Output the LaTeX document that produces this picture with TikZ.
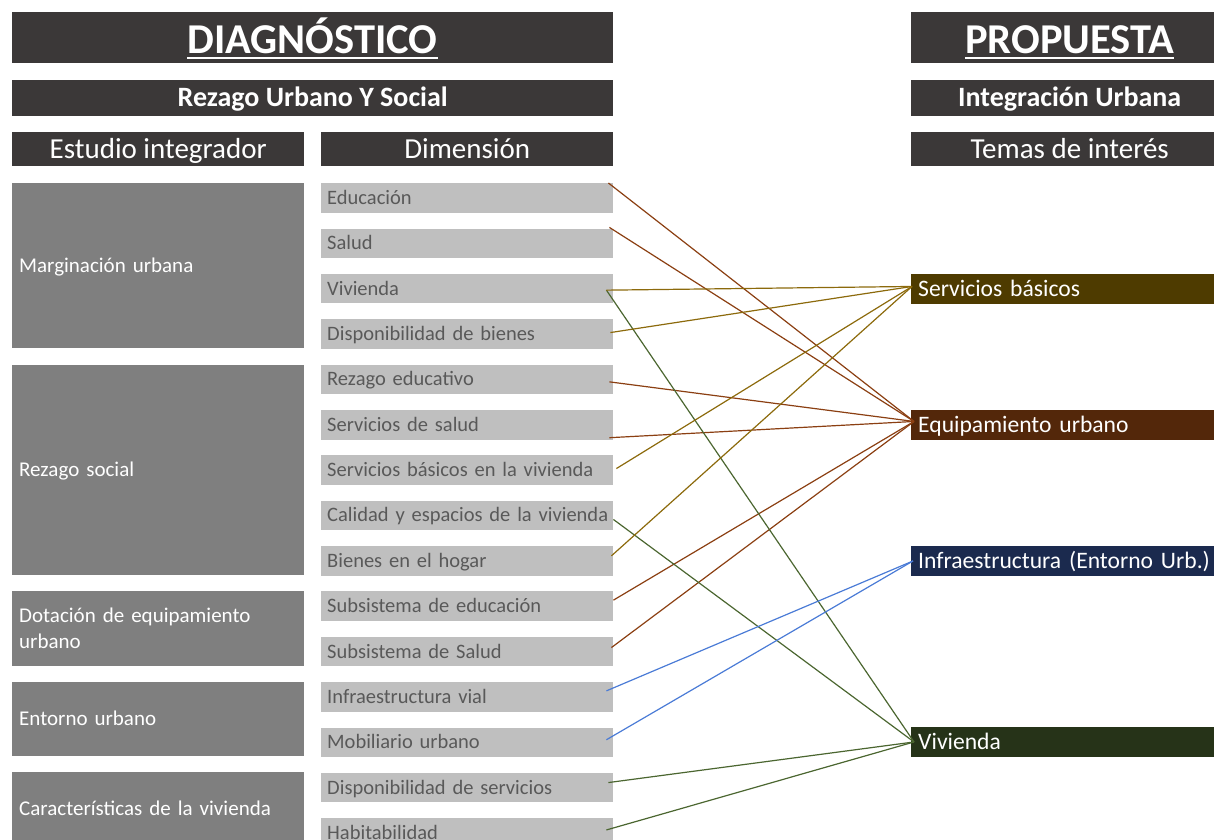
\documentclass[tikz,border=0pt]{standalone}
\usepackage{fontspec}
\setmainfont{Carlito}
\usetikzlibrary{calc}
\definecolor{hdr}{HTML}{3B3838}
\definecolor{lbox}{HTML}{7F7F7F}
\definecolor{dbox}{HTML}{BFBFBF}
\definecolor{dtxt}{HTML}{595959}
\definecolor{sbfill}{HTML}{4E3B00}
\definecolor{eqfill}{HTML}{53270A}
\definecolor{inffill}{HTML}{1B2A4E}
\definecolor{vvfill}{HTML}{263318}
\definecolor{sbline}{HTML}{8C6A0C}
\definecolor{eqline}{HTML}{8B3F12}
\definecolor{infline}{HTML}{4A7BD6}
\definecolor{vvline}{HTML}{4B6630}
\begin{document}
\begin{tikzpicture}[x=1pt,y=-1pt,
  barbox/.style={fill=hdr,draw=none,inner sep=0pt,anchor=north west},
  titletext/.style={text=white,inner sep=0pt,anchor=base,font=\fontsize{42.5}{50}\selectfont\bfseries},
  subbar/.style={barbox,minimum height=35.5pt,text=white,font=\fontsize{28}{32}\selectfont\bfseries,text height=17.6pt,text depth=0pt},
  colbar/.style={barbox,minimum height=34pt,text=white,font=\fontsize{29}{33}\selectfont,text height=18.3pt,text depth=0pt},
  dimbox/.style={anchor=north west,fill=dbox,draw=none,minimum height=29.5pt,text width=280pt,inner xsep=6pt,inner ysep=0pt,align=left,text height=13pt,text depth=0pt,text=dtxt,font=\fontsize{20.5}{24}\selectfont},
  leftbox/.style={anchor=north west,fill=lbox,draw=none,text width=278pt,inner xsep=7pt,inner ysep=0pt,align=left,text=white,font=\fontsize{21}{26}\selectfont},
  onelinetext/.style={text height=13.2pt,text depth=0pt},
  rightbox/.style={anchor=north west,draw=none,minimum height=29.5pt,text width=310pt,inner xsep=7pt,inner ysep=0pt,align=left,text=white,text height=14.9pt,text depth=0pt,font=\fontsize{23.6}{28}\selectfont},
  conn/.style={line width=1.2pt},
  lnsb/.style={conn,draw=sbline},
  lneq/.style={conn,draw=eqline},
  lninf/.style={conn,draw=infline},
  lnvv/.style={conn,draw=vvline}]
\useasboundingbox (0,0) rectangle (1214,839);

% titles
\node[barbox,minimum width=601pt,minimum height=51pt] (diagbar) at (12,12) {};
\node[titletext] (diagt) at (312.5,53) {DIAGNÓSTICO};
\draw[white,line width=2.6pt] ([yshift=-5pt]diagt.base west) -- ([yshift=-5pt]diagt.base east);
\node[barbox,minimum width=317pt,minimum height=51pt] (propbar) at (911,12) {};
\node[titletext] (propt) at (1069.5,53) {PROPUESTA};
\draw[white,line width=2.6pt] ([yshift=-5pt]propt.base west) -- ([yshift=-5pt]propt.base east);

% subtitles
\node[subbar,minimum width=601pt] (rezago) at (12,80) {Rezago Urbano Y Social};
\node[subbar,minimum width=317pt] (integ) at (911,80) {Integración Urbana};

% column headers
\node[colbar,minimum width=292pt] (estudio) at (12,132) {Estudio integrador};
\node[colbar,minimum width=292pt] (dimen) at (321,132) {Dimensión};
\node[colbar,minimum width=317pt] (temas) at (911,132) {Temas de interés};

% left boxes
\node[leftbox,onelinetext,minimum height=165pt] (l1) at (12,183) {Marginación urbana};
\node[leftbox,onelinetext,minimum height=210pt] (l2) at (12,365) {Rezago social};
\node[leftbox,minimum height=75pt] (l3) at (12,591) {Dotación de equipamiento\\urbano};
\node[leftbox,onelinetext,minimum height=74pt] (l4) at (12,682) {Entorno urbano};
\node[leftbox,onelinetext,minimum height=73pt] (l5) at (12,772) {Características de la vivienda};

% dimension boxes
\node[dimbox] (d1) at (321,183.0) {Educación};
\node[dimbox] (d2) at (321,228.4) {Salud};
\node[dimbox] (d3) at (321,273.7) {Vivienda};
\node[dimbox] (d4) at (321,319.1) {Disponibilidad de bienes};
\node[dimbox] (d5) at (321,364.4) {Rezago educativo};
\node[dimbox] (d6) at (321,409.8) {Servicios de salud};
\node[dimbox] (d7) at (321,455.1) {Servicios básicos en la vivienda};
\node[dimbox] (d8) at (321,500.5) {\mbox{Calidad y espacios de la vivienda}};
\node[dimbox] (d9) at (321,545.9) {Bienes en el hogar};
\node[dimbox] (d10) at (321,591.2) {Subsistema de educación};
\node[dimbox] (d11) at (321,636.6) {Subsistema de Salud};
\node[dimbox] (d12) at (321,681.9) {Infraestructura vial};
\node[dimbox] (d13) at (321,727.3) {Mobiliario urbano};
\node[dimbox] (d14) at (321,772.6) {Disponibilidad de servicios};
\node[dimbox] (d15) at (321,818.0) {Habitabilidad};

% right boxes
\node[rightbox,fill=sbfill] (sb) at (911,274) {Servicios básicos};
\node[rightbox,fill=eqfill] (eq) at (911,410) {Equipamiento urbano};
\node[rightbox,fill=inffill] (inf) at (911,546) {Infraestructura (Entorno Urb.)};
\node[rightbox,fill=vvfill] (vv) at (911,727) {Vivienda};

% connector end points
\coordinate (sbin) at ([xshift=1pt,yshift=2.5pt]sb.west);
\coordinate (eqin) at ([xshift=3pt,yshift=3.5pt]eq.west);
\coordinate (infin) at ([xshift=2pt]inf.west);
\coordinate (vvin) at ([xshift=3pt]vv.west);

\coordinate (s1) at ([xshift=-5pt]d1.north east);
\coordinate (s2) at ([xshift=-4pt,yshift=1pt]d2.north east);
\coordinate (s3) at ([xshift=-7pt,yshift=-1.5pt]d3.east);
\coordinate (s4) at ([xshift=-3pt,yshift=1.5pt]d4.east);
\coordinate (s5) at ([xshift=-4pt,yshift=-2.5pt]d5.east);
\coordinate (s6) at ([xshift=-4pt,yshift=2pt]d6.south east);
\coordinate (s7) at ([xshift=3pt,yshift=1.5pt]d7.east);
\coordinate (s8) at ([yshift=-4pt]d8.east);
\coordinate (s9) at ([xshift=-2pt,yshift=5pt]d9.east);
\coordinate (s10) at ([yshift=6pt]d10.east);
\coordinate (s11) at ([xshift=-2pt,yshift=4pt]d11.east);
\coordinate (s12) at ([xshift=-7pt,yshift=6pt]d12.east);
\coordinate (s13) at ([xshift=-7pt,yshift=2.5pt]d13.east);
\coordinate (s14) at ([xshift=-5pt,yshift=5pt]d14.east);
\coordinate (s15) at ([xshift=-7pt,yshift=3pt]d15.east);

% connectors
\draw[lneq] (s1) -- (eqin);
\draw[lneq] (s2) -- (eqin);
\draw[lneq] (s5) -- (eqin);
\draw[lneq] (s6) -- (eqin);
\draw[lneq] (s10) -- (eqin);
\draw[lneq] (s11) -- (eqin);
\draw[lnvv] (s3) -- (vvin);
\draw[lnvv] (s8) -- (vvin);
\draw[lnvv] (s14) -- (vvin);
\draw[lnvv] (s15) -- (vvin);
\draw[lnsb] (s3) -- (sbin);
\draw[lnsb] (s4) -- (sbin);
\draw[lnsb] (s7) -- (sbin);
\draw[lnsb] (s9) -- (sbin);
\draw[lninf] (s12) -- (infin);
\draw[lninf] (s13) -- (infin);
\end{tikzpicture}
\end{document}
